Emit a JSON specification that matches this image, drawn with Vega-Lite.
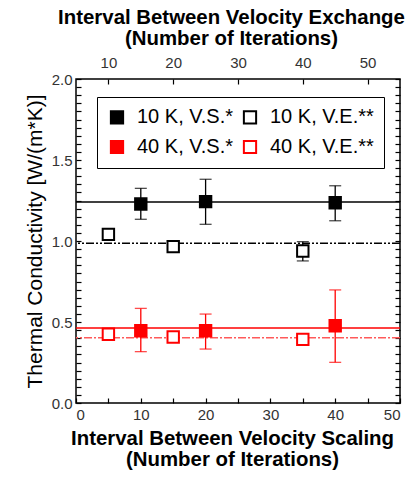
{
  "$schema": "https://vega.github.io/schema/vega-lite/v6.json",
  "width": 324,
  "height": 324,
  "autosize": {"type": "none"},
  "padding": {"left": 76, "top": 79, "right": 16, "bottom": 90},
  "background": "white",
  "datasets": {
    "vs": [
      {"T": "10 K", "series": "10 K, V.S.*", "interval": 10, "k": 1.228, "lo": 1.134, "hi": 1.325},
      {"T": "10 K", "series": "10 K, V.S.*", "interval": 20, "k": 1.243, "lo": 1.103, "hi": 1.381},
      {"T": "10 K", "series": "10 K, V.S.*", "interval": 40, "k": 1.236, "lo": 1.125, "hi": 1.341},
      {"T": "40 K", "series": "40 K, V.S.*", "interval": 10, "k": 0.446, "lo": 0.317, "hi": 0.584},
      {"T": "40 K", "series": "40 K, V.S.*", "interval": 20, "k": 0.446, "lo": 0.333, "hi": 0.549},
      {"T": "40 K", "series": "40 K, V.S.*", "interval": 40, "k": 0.477, "lo": 0.251, "hi": 0.698}
    ],
    "ve": [
      {"T": "10 K", "series": "10 K, V.E.**", "interval": 10, "k": 1.041, "lo": 1.03, "hi": 1.055},
      {"T": "10 K", "series": "10 K, V.E.**", "interval": 20, "k": 0.965, "lo": 0.958, "hi": 0.972},
      {"T": "10 K", "series": "10 K, V.E.**", "interval": 40, "k": 0.938, "lo": 0.877, "hi": 0.996},
      {"T": "40 K", "series": "40 K, V.E.**", "interval": 10, "k": 0.424, "lo": 0.417, "hi": 0.431},
      {"T": "40 K", "series": "40 K, V.E.**", "interval": 20, "k": 0.407, "lo": 0.4, "hi": 0.414},
      {"T": "40 K", "series": "40 K, V.E.**", "interval": 40, "k": 0.393, "lo": 0.386, "hi": 0.4}
    ],
    "fits": [
      {"series": "10 K, V.S.*", "k": 1.24},
      {"series": "10 K, V.E.**", "k": 0.986},
      {"series": "40 K, V.S.*", "k": 0.463},
      {"series": "40 K, V.E.**", "k": 0.403}
    ]
  },
  "layer": [
    {
      "layer": [
        {
          "data": {"name": "fits"},
          "transform": [{"filter": "datum.series === '10 K, V.E.**'"}],
          "mark": {"type": "rule", "color": "black", "strokeWidth": 1.5, "strokeDash": [8, 2, 2, 2, 2, 2]},
          "encoding": {"y": {"field": "k", "type": "quantitative", "scale": {"domain": [0, 2], "nice": false, "zero": false}, "axis": {"title": "Thermal Conductivity [W/(m*K)]", "values": [0, 0.05, 0.1, 0.15, 0.2, 0.25, 0.3, 0.35, 0.4, 0.45, 0.5, 0.55, 0.6, 0.65, 0.7, 0.75, 0.8, 0.85, 0.9, 0.95, 1, 1.05, 1.1, 1.15, 1.2, 1.25, 1.3, 1.35, 1.4, 1.45, 1.5, 1.55, 1.6, 1.65, 1.7, 1.75, 1.8, 1.85, 1.9, 1.95, 2], "labelExpr": "abs(datum.value*2 - round(datum.value*2)) < 0.001 ? format(datum.value, '.1f') : ''", "labelOverlap": false, "ticks": true, "offset": -5, "tickSize": 5, "domain": false, "labelPadding": 4, "titleFontSize": 21, "titleFontWeight": "normal", "titlePadding": 6, "grid": false}}}
        },
        {
          "data": {"name": "fits"},
          "transform": [{"filter": "datum.series === '40 K, V.E.**'"}],
          "mark": {"type": "rule", "color": "#ff5a5a", "strokeWidth": 1.5, "strokeDash": [8, 2, 2, 2]},
          "encoding": {"y": {"field": "k", "type": "quantitative", "scale": {"domain": [0, 2], "nice": false, "zero": false}, "axis": {"title": "Thermal Conductivity [W/(m*K)]", "values": [0, 0.05, 0.1, 0.15, 0.2, 0.25, 0.3, 0.35, 0.4, 0.45, 0.5, 0.55, 0.6, 0.65, 0.7, 0.75, 0.8, 0.85, 0.9, 0.95, 1, 1.05, 1.1, 1.15, 1.2, 1.25, 1.3, 1.35, 1.4, 1.45, 1.5, 1.55, 1.6, 1.65, 1.7, 1.75, 1.8, 1.85, 1.9, 1.95, 2], "labelExpr": "abs(datum.value*2 - round(datum.value*2)) < 0.001 ? format(datum.value, '.1f') : ''", "labelOverlap": false, "ticks": true, "offset": -5, "tickSize": 5, "domain": false, "labelPadding": 4, "titleFontSize": 21, "titleFontWeight": "normal", "titlePadding": 6, "grid": false}}}
        },
        {
          "data": {"name": "fits"},
          "transform": [{"filter": "datum.series === '10 K, V.S.*'"}],
          "mark": {"type": "rule", "color": "black", "strokeWidth": 1.5},
          "encoding": {"y": {"field": "k", "type": "quantitative", "scale": {"domain": [0, 2], "nice": false, "zero": false}, "axis": {"title": "Thermal Conductivity [W/(m*K)]", "values": [0, 0.05, 0.1, 0.15, 0.2, 0.25, 0.3, 0.35, 0.4, 0.45, 0.5, 0.55, 0.6, 0.65, 0.7, 0.75, 0.8, 0.85, 0.9, 0.95, 1, 1.05, 1.1, 1.15, 1.2, 1.25, 1.3, 1.35, 1.4, 1.45, 1.5, 1.55, 1.6, 1.65, 1.7, 1.75, 1.8, 1.85, 1.9, 1.95, 2], "labelExpr": "abs(datum.value*2 - round(datum.value*2)) < 0.001 ? format(datum.value, '.1f') : ''", "labelOverlap": false, "ticks": true, "offset": -5, "tickSize": 5, "domain": false, "labelPadding": 4, "titleFontSize": 21, "titleFontWeight": "normal", "titlePadding": 6, "grid": false}}}
        },
        {
          "data": {"name": "fits"},
          "transform": [{"filter": "datum.series === '40 K, V.S.*'"}],
          "mark": {"type": "rule", "color": "#ff0000", "strokeWidth": 1.5},
          "encoding": {"y": {"field": "k", "type": "quantitative", "scale": {"domain": [0, 2], "nice": false, "zero": false}, "axis": {"title": "Thermal Conductivity [W/(m*K)]", "values": [0, 0.05, 0.1, 0.15, 0.2, 0.25, 0.3, 0.35, 0.4, 0.45, 0.5, 0.55, 0.6, 0.65, 0.7, 0.75, 0.8, 0.85, 0.9, 0.95, 1, 1.05, 1.1, 1.15, 1.2, 1.25, 1.3, 1.35, 1.4, 1.45, 1.5, 1.55, 1.6, 1.65, 1.7, 1.75, 1.8, 1.85, 1.9, 1.95, 2], "labelExpr": "abs(datum.value*2 - round(datum.value*2)) < 0.001 ? format(datum.value, '.1f') : ''", "labelOverlap": false, "ticks": true, "offset": -5, "tickSize": 5, "domain": false, "labelPadding": 4, "titleFontSize": 21, "titleFontWeight": "normal", "titlePadding": 6, "grid": false}}}
        },
        {
          "data": {"name": "vs"},
          "mark": {"type": "rule", "strokeWidth": 1.3},
          "encoding": {
            "x": {"field": "interval", "type": "quantitative", "scale": {"domain": [0, 50], "nice": false, "zero": false}, "axis": {"orient": "bottom", "values": [0, 5, 10, 15, 20, 25, 30, 35, 40, 45, 50], "labelExpr": "datum.value % 10 === 0 ? datum.label : ''", "labelOverlap": false, "ticks": true, "offset": -5, "tickSize": 5, "domain": false, "labelPadding": 4, "title": ["Interval Between Velocity Scaling", "(Number of Iterations)"], "titleFontSize": 20.4, "titleFontWeight": "bold", "titleLineHeight": 21, "titlePadding": 6, "titleX": 156, "grid": false}},
            "y": {"field": "lo", "type": "quantitative", "scale": {"domain": [0, 2], "nice": false, "zero": false}, "axis": {"title": "Thermal Conductivity [W/(m*K)]", "values": [0, 0.05, 0.1, 0.15, 0.2, 0.25, 0.3, 0.35, 0.4, 0.45, 0.5, 0.55, 0.6, 0.65, 0.7, 0.75, 0.8, 0.85, 0.9, 0.95, 1, 1.05, 1.1, 1.15, 1.2, 1.25, 1.3, 1.35, 1.4, 1.45, 1.5, 1.55, 1.6, 1.65, 1.7, 1.75, 1.8, 1.85, 1.9, 1.95, 2], "labelExpr": "abs(datum.value*2 - round(datum.value*2)) < 0.001 ? format(datum.value, '.1f') : ''", "labelOverlap": false, "ticks": true, "offset": -5, "tickSize": 5, "domain": false, "labelPadding": 4, "titleFontSize": 21, "titleFontWeight": "normal", "titlePadding": 6, "grid": false}},
            "y2": {"field": "hi"},
            "color": {"field": "T", "type": "nominal", "scale": {"domain": ["10 K", "40 K"], "range": ["#000000", "#ff0000"]}, "legend": null}
          }
        },
        {
          "data": {"name": "vs"},
          "mark": {"type": "tick", "orient": "horizontal", "size": 12, "thickness": 1.3},
          "encoding": {
            "x": {"field": "interval", "type": "quantitative", "scale": {"domain": [0, 50], "nice": false, "zero": false}, "axis": {"orient": "bottom", "values": [0, 5, 10, 15, 20, 25, 30, 35, 40, 45, 50], "labelExpr": "datum.value % 10 === 0 ? datum.label : ''", "labelOverlap": false, "ticks": true, "offset": -5, "tickSize": 5, "domain": false, "labelPadding": 4, "title": ["Interval Between Velocity Scaling", "(Number of Iterations)"], "titleFontSize": 20.4, "titleFontWeight": "bold", "titleLineHeight": 21, "titlePadding": 6, "titleX": 156, "grid": false}},
            "y": {"field": "lo", "type": "quantitative", "scale": {"domain": [0, 2], "nice": false, "zero": false}, "axis": {"title": "Thermal Conductivity [W/(m*K)]", "values": [0, 0.05, 0.1, 0.15, 0.2, 0.25, 0.3, 0.35, 0.4, 0.45, 0.5, 0.55, 0.6, 0.65, 0.7, 0.75, 0.8, 0.85, 0.9, 0.95, 1, 1.05, 1.1, 1.15, 1.2, 1.25, 1.3, 1.35, 1.4, 1.45, 1.5, 1.55, 1.6, 1.65, 1.7, 1.75, 1.8, 1.85, 1.9, 1.95, 2], "labelExpr": "abs(datum.value*2 - round(datum.value*2)) < 0.001 ? format(datum.value, '.1f') : ''", "labelOverlap": false, "ticks": true, "offset": -5, "tickSize": 5, "domain": false, "labelPadding": 4, "titleFontSize": 21, "titleFontWeight": "normal", "titlePadding": 6, "grid": false}},
            "color": {"field": "T", "type": "nominal", "scale": {"domain": ["10 K", "40 K"], "range": ["#000000", "#ff0000"]}, "legend": null}
          }
        },
        {
          "data": {"name": "vs"},
          "mark": {"type": "tick", "orient": "horizontal", "size": 12, "thickness": 1.3},
          "encoding": {
            "x": {"field": "interval", "type": "quantitative", "scale": {"domain": [0, 50], "nice": false, "zero": false}, "axis": {"orient": "bottom", "values": [0, 5, 10, 15, 20, 25, 30, 35, 40, 45, 50], "labelExpr": "datum.value % 10 === 0 ? datum.label : ''", "labelOverlap": false, "ticks": true, "offset": -5, "tickSize": 5, "domain": false, "labelPadding": 4, "title": ["Interval Between Velocity Scaling", "(Number of Iterations)"], "titleFontSize": 20.4, "titleFontWeight": "bold", "titleLineHeight": 21, "titlePadding": 6, "titleX": 156, "grid": false}},
            "y": {"field": "hi", "type": "quantitative", "scale": {"domain": [0, 2], "nice": false, "zero": false}, "axis": {"title": "Thermal Conductivity [W/(m*K)]", "values": [0, 0.05, 0.1, 0.15, 0.2, 0.25, 0.3, 0.35, 0.4, 0.45, 0.5, 0.55, 0.6, 0.65, 0.7, 0.75, 0.8, 0.85, 0.9, 0.95, 1, 1.05, 1.1, 1.15, 1.2, 1.25, 1.3, 1.35, 1.4, 1.45, 1.5, 1.55, 1.6, 1.65, 1.7, 1.75, 1.8, 1.85, 1.9, 1.95, 2], "labelExpr": "abs(datum.value*2 - round(datum.value*2)) < 0.001 ? format(datum.value, '.1f') : ''", "labelOverlap": false, "ticks": true, "offset": -5, "tickSize": 5, "domain": false, "labelPadding": 4, "titleFontSize": 21, "titleFontWeight": "normal", "titlePadding": 6, "grid": false}},
            "color": {"field": "T", "type": "nominal", "scale": {"domain": ["10 K", "40 K"], "range": ["#000000", "#ff0000"]}, "legend": null}
          }
        },
        {
          "data": {"name": "vs"},
          "mark": {"type": "point", "shape": "square", "size": 130, "strokeWidth": 2, "opacity": 1, "fillOpacity": 1},
          "encoding": {
            "x": {"field": "interval", "type": "quantitative", "scale": {"domain": [0, 50], "nice": false, "zero": false}, "axis": {"orient": "bottom", "values": [0, 5, 10, 15, 20, 25, 30, 35, 40, 45, 50], "labelExpr": "datum.value % 10 === 0 ? datum.label : ''", "labelOverlap": false, "ticks": true, "offset": -5, "tickSize": 5, "domain": false, "labelPadding": 4, "title": ["Interval Between Velocity Scaling", "(Number of Iterations)"], "titleFontSize": 20.4, "titleFontWeight": "bold", "titleLineHeight": 21, "titlePadding": 6, "titleX": 156, "grid": false}},
            "y": {"field": "k", "type": "quantitative", "scale": {"domain": [0, 2], "nice": false, "zero": false}, "axis": {"title": "Thermal Conductivity [W/(m*K)]", "values": [0, 0.05, 0.1, 0.15, 0.2, 0.25, 0.3, 0.35, 0.4, 0.45, 0.5, 0.55, 0.6, 0.65, 0.7, 0.75, 0.8, 0.85, 0.9, 0.95, 1, 1.05, 1.1, 1.15, 1.2, 1.25, 1.3, 1.35, 1.4, 1.45, 1.5, 1.55, 1.6, 1.65, 1.7, 1.75, 1.8, 1.85, 1.9, 1.95, 2], "labelExpr": "abs(datum.value*2 - round(datum.value*2)) < 0.001 ? format(datum.value, '.1f') : ''", "labelOverlap": false, "ticks": true, "offset": -5, "tickSize": 5, "domain": false, "labelPadding": 4, "titleFontSize": 21, "titleFontWeight": "normal", "titlePadding": 6, "grid": false}},
            "stroke": {"field": "series", "type": "nominal", "scale": {"domain": ["10 K, V.S.*", "10 K, V.E.**", "40 K, V.S.*", "40 K, V.E.**"], "range": ["#000000", "#000000", "#ff0000", "#ff0000"]}, "legend": {"title": null, "orient": "none", "direction": "horizontal", "legendX": 21, "legendY": 18, "columns": 2, "columnPadding": 6, "rowPadding": 8, "padding": 10, "strokeColor": "black", "symbolType": "square", "symbolSize": 150, "symbolStrokeWidth": 2, "labelFontSize": 20, "labelOffset": 10, "labelLimit": 300, "labelFont": "Liberation Sans", "encode": {"labels": {"update": {"fill": {"signal": "indexof(datum.label, '40') === 0 ? '#ff0000' : '#000000'"}}}, "legend": {"update": {"strokeWidth": {"value": 2}}}}}},
            "fill": {"field": "series", "type": "nominal", "scale": {"domain": ["10 K, V.S.*", "10 K, V.E.**", "40 K, V.S.*", "40 K, V.E.**"], "range": ["#000000", "#ffffff", "#ff0000", "#ffffff"]}, "legend": {"title": null, "orient": "none", "direction": "horizontal", "legendX": 21, "legendY": 18, "columns": 2, "columnPadding": 6, "rowPadding": 8, "padding": 10, "strokeColor": "black", "symbolType": "square", "symbolSize": 150, "symbolStrokeWidth": 2, "labelFontSize": 20, "labelOffset": 10, "labelLimit": 300, "labelFont": "Liberation Sans", "encode": {"labels": {"update": {"fill": {"signal": "indexof(datum.label, '40') === 0 ? '#ff0000' : '#000000'"}}}, "legend": {"update": {"strokeWidth": {"value": 2}}}}}}
          }
        }
      ]
    },
    {
      "layer": [
        {
          "data": {"name": "ve"},
          "mark": {"type": "rule", "strokeWidth": 1.3},
          "encoding": {
            "x": {"field": "interval", "type": "quantitative", "scale": {"domain": [5, 55], "nice": false, "zero": false}, "axis": {"orient": "top", "values": [10, 20, 30, 40, 50], "ticks": true, "offset": -5, "tickSize": 5, "domain": false, "labelPadding": 9, "labelOverlap": false, "title": ["Interval Between Velocity Exchange", "(Number of Iterations)"], "titleFontSize": 20.4, "titleFontWeight": "bold", "titleLineHeight": 21, "titlePadding": 7, "titleX": 155, "grid": false}},
            "y": {"field": "lo", "type": "quantitative", "scale": {"domain": [0, 2], "nice": false, "zero": false}, "axis": {"orient": "right", "values": [0, 0.05, 0.1, 0.15, 0.2, 0.25, 0.3, 0.35, 0.4, 0.45, 0.5, 0.55, 0.6, 0.65, 0.7, 0.75, 0.8, 0.85, 0.9, 0.95, 1, 1.05, 1.1, 1.15, 1.2, 1.25, 1.3, 1.35, 1.4, 1.45, 1.5, 1.55, 1.6, 1.65, 1.7, 1.75, 1.8, 1.85, 1.9, 1.95, 2], "labels": false, "ticks": true, "offset": -5, "tickSize": 5, "domain": false, "title": null, "grid": false}},
            "y2": {"field": "hi"},
            "color": {"field": "T", "type": "nominal", "scale": {"domain": ["10 K", "40 K"], "range": ["#000000", "#ff0000"]}, "legend": null}
          }
        },
        {
          "data": {"name": "ve"},
          "mark": {"type": "tick", "orient": "horizontal", "size": 12, "thickness": 1.3},
          "encoding": {
            "x": {"field": "interval", "type": "quantitative", "scale": {"domain": [5, 55], "nice": false, "zero": false}, "axis": {"orient": "top", "values": [10, 20, 30, 40, 50], "ticks": true, "offset": -5, "tickSize": 5, "domain": false, "labelPadding": 9, "labelOverlap": false, "title": ["Interval Between Velocity Exchange", "(Number of Iterations)"], "titleFontSize": 20.4, "titleFontWeight": "bold", "titleLineHeight": 21, "titlePadding": 7, "titleX": 155, "grid": false}},
            "y": {"field": "lo", "type": "quantitative", "scale": {"domain": [0, 2], "nice": false, "zero": false}, "axis": {"orient": "right", "values": [0, 0.05, 0.1, 0.15, 0.2, 0.25, 0.3, 0.35, 0.4, 0.45, 0.5, 0.55, 0.6, 0.65, 0.7, 0.75, 0.8, 0.85, 0.9, 0.95, 1, 1.05, 1.1, 1.15, 1.2, 1.25, 1.3, 1.35, 1.4, 1.45, 1.5, 1.55, 1.6, 1.65, 1.7, 1.75, 1.8, 1.85, 1.9, 1.95, 2], "labels": false, "ticks": true, "offset": -5, "tickSize": 5, "domain": false, "title": null, "grid": false}},
            "color": {"field": "T", "type": "nominal", "scale": {"domain": ["10 K", "40 K"], "range": ["#000000", "#ff0000"]}, "legend": null}
          }
        },
        {
          "data": {"name": "ve"},
          "mark": {"type": "tick", "orient": "horizontal", "size": 12, "thickness": 1.3},
          "encoding": {
            "x": {"field": "interval", "type": "quantitative", "scale": {"domain": [5, 55], "nice": false, "zero": false}, "axis": {"orient": "top", "values": [10, 20, 30, 40, 50], "ticks": true, "offset": -5, "tickSize": 5, "domain": false, "labelPadding": 9, "labelOverlap": false, "title": ["Interval Between Velocity Exchange", "(Number of Iterations)"], "titleFontSize": 20.4, "titleFontWeight": "bold", "titleLineHeight": 21, "titlePadding": 7, "titleX": 155, "grid": false}},
            "y": {"field": "hi", "type": "quantitative", "scale": {"domain": [0, 2], "nice": false, "zero": false}, "axis": {"orient": "right", "values": [0, 0.05, 0.1, 0.15, 0.2, 0.25, 0.3, 0.35, 0.4, 0.45, 0.5, 0.55, 0.6, 0.65, 0.7, 0.75, 0.8, 0.85, 0.9, 0.95, 1, 1.05, 1.1, 1.15, 1.2, 1.25, 1.3, 1.35, 1.4, 1.45, 1.5, 1.55, 1.6, 1.65, 1.7, 1.75, 1.8, 1.85, 1.9, 1.95, 2], "labels": false, "ticks": true, "offset": -5, "tickSize": 5, "domain": false, "title": null, "grid": false}},
            "color": {"field": "T", "type": "nominal", "scale": {"domain": ["10 K", "40 K"], "range": ["#000000", "#ff0000"]}, "legend": null}
          }
        },
        {
          "data": {"name": "ve"},
          "mark": {"type": "point", "shape": "square", "size": 130, "strokeWidth": 2, "opacity": 1, "fillOpacity": 1},
          "encoding": {
            "x": {"field": "interval", "type": "quantitative", "scale": {"domain": [5, 55], "nice": false, "zero": false}, "axis": {"orient": "top", "values": [10, 20, 30, 40, 50], "ticks": true, "offset": -5, "tickSize": 5, "domain": false, "labelPadding": 9, "labelOverlap": false, "title": ["Interval Between Velocity Exchange", "(Number of Iterations)"], "titleFontSize": 20.4, "titleFontWeight": "bold", "titleLineHeight": 21, "titlePadding": 7, "titleX": 155, "grid": false}},
            "y": {"field": "k", "type": "quantitative", "scale": {"domain": [0, 2], "nice": false, "zero": false}, "axis": {"orient": "right", "values": [0, 0.05, 0.1, 0.15, 0.2, 0.25, 0.3, 0.35, 0.4, 0.45, 0.5, 0.55, 0.6, 0.65, 0.7, 0.75, 0.8, 0.85, 0.9, 0.95, 1, 1.05, 1.1, 1.15, 1.2, 1.25, 1.3, 1.35, 1.4, 1.45, 1.5, 1.55, 1.6, 1.65, 1.7, 1.75, 1.8, 1.85, 1.9, 1.95, 2], "labels": false, "ticks": true, "offset": -5, "tickSize": 5, "domain": false, "title": null, "grid": false}},
            "stroke": {"field": "series", "type": "nominal"},
            "fill": {"field": "series", "type": "nominal"}
          }
        }
      ]
    }
  ],
  "resolve": {"scale": {"x": "independent", "y": "independent"}, "axis": {"x": "independent", "y": "independent"}},
  "config": {
    "font": "Liberation Sans",
    "view": {"stroke": "black", "strokeWidth": 1.5},
    "axis": {"domainColor": "black", "domainWidth": 1.5, "tickColor": "black", "tickWidth": 1.2, "labelColor": "#333333", "labelFontSize": 15, "labelFont": "Liberation Sans", "titleFont": "Liberation Sans", "titleColor": "black", "grid": false, "labelOverlap": false, "ticks": true}
  }
}
